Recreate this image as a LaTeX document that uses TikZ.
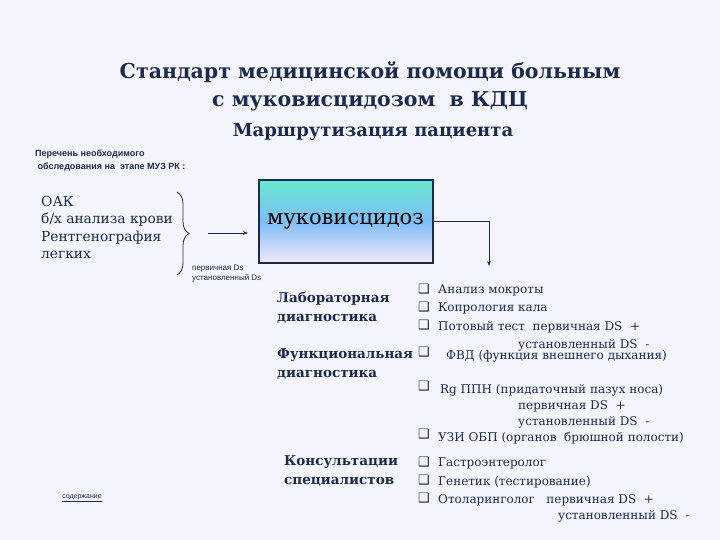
\documentclass[tikz,border=0pt]{standalone}
\usepackage{fontspec}
\setmainfont{DejaVu Serif}
\newfontfamily\sansf{Liberation Sans}
\newfontfamily\dvs{DejaVu Sans}
\usetikzlibrary{arrows.meta,decorations.pathreplacing}
\definecolor{ink}{HTML}{1C2A4E}
\definecolor{boxtop}{HTML}{66E8D0}
\definecolor{boxmid}{HTML}{7FBDF8}
\definecolor{boxbot}{HTML}{F2E8F6}
\tikzset{
  txt/.style={text=ink,inner sep=0pt,align=left},
  item/.style={txt,font=\fontsize{12}{14.5}\selectfont,anchor=north west},
  cb/.style={txt,font=\dvs\fontsize{13}{14.5}\selectfont,anchor=north west},
  lbl/.style={txt,font=\bfseries\fontsize{13.5}{19}\selectfont,anchor=north west},
  conn/.style={draw=ink,line width=0.8pt},
}
\begin{document}
\begin{tikzpicture}[x=1pt,y=-1pt]
\fill[white!96!blue] (0,0) rectangle (720,540);
\useasboundingbox (0,0) rectangle (720,540);
\node[txt,align=center,font=\bfseries\fontsize{20.5}{28}\selectfont] (t1) at (370,86) {Стандарт медицинской помощи больным\\с муковисцидозом \ в КДЦ};
\node[txt,font=\bfseries\fontsize{18}{22}\selectfont] (t2) at (373,132) {Маршрутизация пациента};
\node[txt,font=\sansf\bfseries\fontsize{9}{13}\selectfont,anchor=north west] (p) at (35,150) {Перечень необходимого\\\ обследования на \ этапе МУЗ РК :};
\node[item,font=\fontsize{13.8}{17.5}\selectfont] (oak) at (41,196) {ОАК\\б/х анализа крови\\Рентгенография\\легких};
\draw[conn,decorate,decoration={brace,amplitude=12pt}] (177,192) -- (177,275);
\node[txt,font=\sansf\fontsize{8}{10}\selectfont,anchor=north west] (pd) at (192,265) {первичная Ds\\установленный Ds};
\node[draw=ink,line width=2pt,top color=boxtop,bottom color=boxbot,middle color=boxmid,minimum width=174pt,minimum height=82pt,inner sep=0pt,font=\fontsize{21}{26}\selectfont,text=black] (box) at (345.5,221.5) {муковисцидоз};
\coordinate (a0) at (208,233);
\coordinate (a1) at (248,233);
\draw[conn,-{Stealth[length=5pt]}] (a0) -- (a1);
\coordinate (c1) at (489,266);
\draw[conn,-{Stealth[length=5pt]}] (box.east) -| (c1);
\node[lbl] (lab) at (277,292) {Лабораторная\\диагностика};
\node[lbl] (fun) at (277,348) {Функциональная\\диагностика};
\node[lbl] (kon) at (284,455) {Консультации\\специалистов};
\node[txt,font=\sansf\fontsize{7}{9}\selectfont] (sod) at (82,498) {\underline{содержание}};
\foreach \y in {284,302,320,347,381,429,457,475,493}
  \node[cb] at (418,\y) {❑};
\node[item] (i1) at (438,285) {Анализ мокроты};
\node[item] (i2) at (438,303) {Копрология кала};
\node[item] (i3) at (438,321) {Потовый тест \ первичная DS \ +};
\node[item] (i3b) at (518,339) {установленный DS \ -};
\node[item] (i4) at (446,350) {ФВД (функция внешнего дыхания)};
\node[item] (i5) at (440,384) {Rg ППН (придаточный пазух носа)};
\node[item] (i5b) at (518,400) {первичная DS \ +};
\node[item] (i5c) at (518,416) {установленный DS \ -};
\node[item] (i6) at (438,432) {УЗИ ОБП (органов \ брюшной полости)};
\node[item] (k1) at (438,458) {Гастроэнтеролог};
\node[item] (k2) at (438,476) {Генетик (тестирование)};
\node[item] (k3) at (438,494) {Отоларинголог \ \ первичная DS \ +};
\node[item] (k3b) at (558,510) {установленный DS \ -};
\end{tikzpicture}
\end{document}
